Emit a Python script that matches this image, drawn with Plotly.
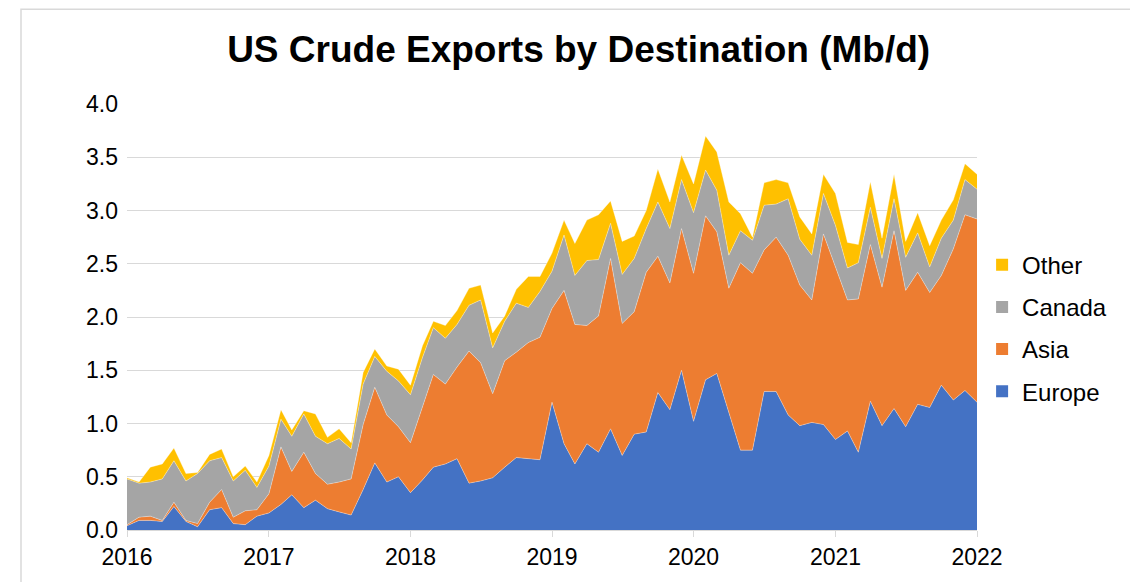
import pandas as pd
import plotly.graph_objects as go

months = pd.date_range("2016-01-01", "2022-01-01", freq="MS")

europe = [0.04, 0.09, 0.09, 0.08, 0.22, 0.08, 0.03, 0.19, 0.21, 0.06, 0.05, 0.13,
          0.16, 0.24, 0.33, 0.21, 0.28, 0.20, 0.17, 0.14, 0.38, 0.63, 0.45, 0.50,
          0.35, 0.47, 0.59, 0.62, 0.67, 0.44, 0.46, 0.49, 0.59, 0.68, 0.67, 0.66,
          1.20, 0.81, 0.62, 0.81, 0.73, 0.95, 0.70, 0.90, 0.92, 1.29, 1.13, 1.50,
          1.02, 1.41, 1.47, 1.10, 0.75, 0.75, 1.30, 1.30, 1.08, 0.98, 1.01, 0.99,
          0.85, 0.93, 0.73, 1.21, 0.98, 1.14, 0.97, 1.18, 1.15, 1.36, 1.22, 1.31,
          1.20]
asia = [0.01, 0.03, 0.04, 0.01, 0.04, 0.01, 0.03, 0.07, 0.17, 0.06, 0.13, 0.06,
        0.18, 0.54, 0.22, 0.52, 0.25, 0.23, 0.28, 0.34, 0.61, 0.71, 0.63, 0.47,
        0.47, 0.68, 0.87, 0.75, 0.86, 1.24, 1.11, 0.79, 1.00, 0.99, 1.09, 1.15,
        0.88, 1.44, 1.31, 1.11, 1.28, 1.60, 1.24, 1.15, 1.50, 1.28, 1.19, 1.33,
        1.39, 1.54, 1.33, 1.17, 1.76, 1.66, 1.33, 1.45, 1.50, 1.32, 1.15, 1.79,
        1.62, 1.23, 1.44, 1.47, 1.30, 1.67, 1.28, 1.24, 1.08, 1.03, 1.42, 1.65,
        1.72]
canada = [0.43, 0.32, 0.32, 0.39, 0.39, 0.37, 0.47, 0.39, 0.30, 0.34, 0.38, 0.21,
          0.26, 0.26, 0.33, 0.36, 0.35, 0.38, 0.41, 0.28, 0.38, 0.29, 0.41, 0.43,
          0.45, 0.47, 0.44, 0.43, 0.40, 0.43, 0.59, 0.43, 0.37, 0.46, 0.33, 0.43,
          0.35, 0.52, 0.46, 0.61, 0.53, 0.33, 0.46, 0.50, 0.41, 0.51, 0.51, 0.46,
          0.57, 0.43, 0.39, 0.31, 0.30, 0.31, 0.42, 0.31, 0.53, 0.43, 0.42, 0.38,
          0.39, 0.30, 0.34, 0.35, 0.27, 0.30, 0.31, 0.37, 0.24, 0.35, 0.27, 0.33,
          0.28]
other = [0.01, 0.01, 0.14, 0.14, 0.12, 0.07, 0.01, 0.06, 0.08, 0.04, 0.04, 0.05,
         0.10, 0.09, 0.06, 0.03, 0.21, 0.06, 0.09, 0.06, 0.11, 0.07, 0.05, 0.11,
         0.09, 0.11, 0.06, 0.12, 0.13, 0.16, 0.14, 0.14, 0.05, 0.13, 0.29, 0.14,
         0.17, 0.14, 0.30, 0.38, 0.42, 0.21, 0.31, 0.21, 0.17, 0.31, 0.25, 0.23,
         0.27, 0.32, 0.36, 0.50, 0.16, 0.03, 0.21, 0.23, 0.15, 0.21, 0.20, 0.18,
         0.30, 0.24, 0.17, 0.24, 0.19, 0.23, 0.15, 0.19, 0.20, 0.17, 0.19, 0.15,
         0.14]

series_names = ["Europe", "Asia", "Canada", "Other"]
series_values = [europe, asia, canada, other]
colors = ["#4472C4", "#ED7D31", "#A5A5A5", "#FFC000"]

year_ticks = pd.date_range("2016-01-01", "2022-01-01", freq="YS")
year_labels = [str(d.year) for d in year_ticks]
y_ticks = [0.0, 0.5, 1.0, 1.5, 2.0, 2.5, 3.0, 3.5, 4.0]

FONT = "Liberation Sans, Arial, sans-serif"

fig = go.Figure()
for name, vals, col in zip(series_names, series_values, colors):
    fig.add_trace(go.Scatter(
        x=months, y=vals, name=name, stackgroup="one", mode="lines",
        line=dict(width=0.6, color="rgba(255,255,255,0.55)"),
        fillcolor=col, showlegend=False, hoverinfo="x+y+name",
    ))

# legend entries (square swatches), top to bottom: Other, Canada, Asia, Europe
for name, col in reversed(list(zip(series_names, colors))):
    fig.add_trace(go.Scatter(
        x=[None], y=[None], mode="markers", name=name, legendgroup=name,
        marker=dict(symbol="square", size=12, color=col),
        showlegend=True,
    ))

# the page body adds an 8px offset, so the figure is 8px smaller on each axis
fig.update_layout(
    width=1130, height=574,
    margin=dict(l=119, r=161, t=96, b=52),
    paper_bgcolor="white", plot_bgcolor="white",
    font=dict(family=FONT, size=23, color="black"),
    title=dict(text="<b>US Crude Exports by Destination (Mb/d)</b>",
               x=0.505, xanchor="center", y=0.9285, yanchor="middle",
               font=dict(family=FONT, size=37, color="black")),
    legend=dict(x=1.006, xanchor="left", y=0.474, yanchor="middle",
                traceorder="grouped", tracegroupgap=8,
                font=dict(family=FONT, size=24, color="black"),
                itemwidth=30, bgcolor="rgba(0,0,0,0)"),
    showlegend=True,
    xaxis=dict(type="date", range=[months[0], months[-1]],
               tickvals=year_ticks, ticktext=year_labels,
               showgrid=False, showline=True, linecolor="#d9d9d9", linewidth=1,
               ticks="outside", ticklen=6, tickcolor="#d9d9d9",
               tickfont=dict(family=FONT, size=23, color="black"), zeroline=False),
    yaxis=dict(range=[0, 4.0], tickvals=y_ticks, tickformat=".1f",
               showgrid=True, gridcolor="#d9d9d9", gridwidth=1,
               showline=False, zeroline=False, ticks="", ticklabelstandoff=8,
               tickfont=dict(family=FONT, size=23, color="black")),
    shapes=[dict(type="rect", xref="paper", yref="paper",
                 x0=-0.1247, x1=1.1812, y0=-0.2, y1=1.2226,
                 line=dict(color="#d9d9d9", width=1.5), fillcolor="rgba(0,0,0,0)",
                 layer="below")],
)

fig.write_html("out.html")
